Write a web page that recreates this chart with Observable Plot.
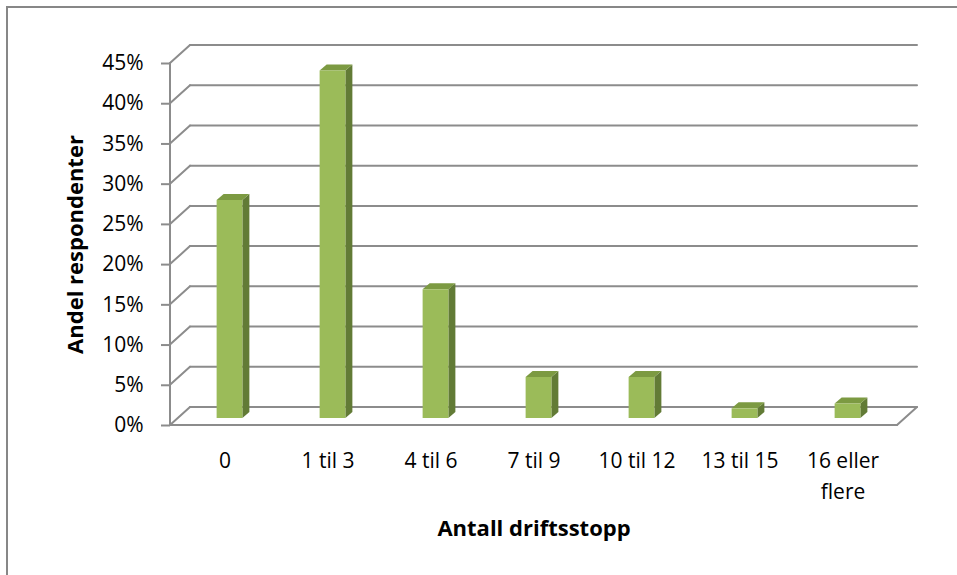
<!DOCTYPE html>
<html>
<head>
<meta charset="utf-8">
<script src="https://cdn.jsdelivr.net/npm/d3@7"></script>
<script src="https://cdn.jsdelivr.net/npm/@observablehq/plot@0.6"></script>
<style>
  body { margin: 0; background: #fff; }
  #chart { position: relative; width: 957px; height: 575px; overflow: hidden; background: #fff; }
  #chart .frame { position: absolute; left: 6px; top: 6px; width: 3000px; height: 3000px;
                  border: 2px solid #878787; box-sizing: border-box; pointer-events: none; }
  #chart svg { position: absolute; left: 0; top: 0; }
</style>
</head>
<body>
<div id="chart"><div class="frame"></div></div>
<script>
// Number of production stops (categories) and share of respondents
const categories = ["0", "1 til 3", "4 til 6", "7 til 9", "10 til 12", "13 til 15", "16 eller flere"];
const shares = [0.271, 0.432, 0.160, 0.051, 0.051, 0.012, 0.018];
const yTicks = [0, 0.05, 0.10, 0.15, 0.20, 0.25, 0.30, 0.35, 0.40, 0.45];
const xTitle = "Antall driftsstopp";
const yTitle = "Andel respondenter";

const data = categories.map((category, i) => ({category, share: shares[i]}));

// 3D look: depth of the walls, placement and depth of the columns
const wall = {dx: 20, dy: -18};
const col = {dx: 5, dy: -7, depthX: 7, depthY: -6, frac: 0.25};
const gridColor = "#8c8c8c";
const faceColors = {front: "#9bbb59", top: "#7c9a42", side: "#627b36"};

function scene(index, scales, values, dimensions) {
  const {x, y} = scales;
  const bw = typeof x.bandwidth === "function" ? x.bandwidth() : x.bandwidth;
  const left = dimensions.marginLeft;
  const right = dimensions.width - dimensions.marginRight;
  const g = d3.create("svg:g");
  const line = (x1, y1, x2, y2) =>
    g.append("line").attr("x1", x1).attr("y1", y1).attr("x2", x2).attr("y2", y2)
      .attr("stroke", gridColor).attr("stroke-width", 2).attr("stroke-linecap", "round");

  // back wall gridlines and the left wall
  for (const t of yTicks) {
    line(left + wall.dx, y(t) + wall.dy, right + wall.dx, y(t) + wall.dy);
    line(left, y(t), left + wall.dx, y(t) + wall.dy);
  }
  // floor
  line(left, y(0), right, y(0));
  line(right, y(0), right + wall.dx, y(0) + wall.dy);
  // front vertical axis line
  line(left, y(0), left, y(yTicks[yTicks.length - 1]));

  // columns
  const w = bw * col.frac;
  for (const d of data) {
    const x0 = x(d.category) + bw / 2 - w / 2 + col.dx;
    const yb = y(0) + col.dy;
    const yt = y(d.share) + col.dy;
    const pts = a => a.map(p => p.join(",")).join(" ");
    g.append("polygon").attr("fill", faceColors.side).attr("points", pts([
      [x0 + w, yt], [x0 + w + col.depthX, yt + col.depthY],
      [x0 + w + col.depthX, yb + col.depthY], [x0 + w, yb]
    ]));
    g.append("polygon").attr("fill", faceColors.top).attr("points", pts([
      [x0, yt], [x0 + w, yt], [x0 + w + col.depthX, yt + col.depthY], [x0 + col.depthX, yt + col.depthY]
    ]));
    g.append("rect").attr("fill", faceColors.front)
      .attr("x", x0).attr("y", yt).attr("width", w).attr("height", yb - yt);
  }
  return g.node();
}

const chart = Plot.plot({
  width: 957,
  height: 575,
  marginLeft: 170,
  marginRight: 60,
  marginTop: 63,
  marginBottom: 150,
  style: {fontFamily: "'Open Sans', sans-serif", fontSize: "21px", color: "#000", background: "transparent"},
  x: {type: "band", domain: categories, padding: 0, axis: null},
  y: {domain: [0, 0.45], axis: null},
  marks: [
    scene,
    Plot.axisY(yTicks, {
      tickFormat: d => `${Math.round(d * 100)}%`,
      tickSize: 9, tickPadding: 18, stroke: gridColor, strokeWidth: 2,
      fontSize: 21, label: null
    }),
    Plot.text(categories, {
      x: d => d, frameAnchor: "bottom", dy: 21, lineAnchor: "top", lineHeight: 1.45,
      text: d => d.replace(" eller ", " eller\n"), fontSize: 21
    }),
    Plot.text([xTitle], {frameAnchor: "bottom", dy: 110, fontWeight: "bold", fontSize: 22}),
    Plot.text([yTitle], {frameAnchor: "left", textAnchor: "middle", dx: -95, rotate: -90,
      fontWeight: "bold", fontSize: 22})
  ]
});

document.getElementById("chart").append(chart);
</script>
</body>
</html>
